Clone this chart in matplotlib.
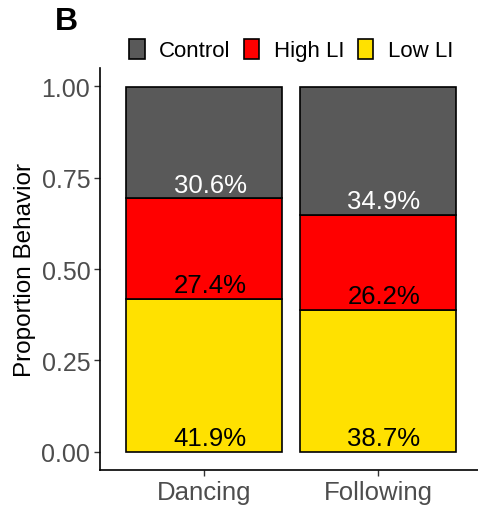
import matplotlib
matplotlib.use("Agg")
import matplotlib.pyplot as plt
from matplotlib.patches import Patch
import numpy as np

categories = ["Dancing", "Following"]
groups = ["Control", "High LI", "Low LI"]
low_li = [41.9, 38.7]
high_li = [27.4, 26.2]
control = [30.6, 34.9]
colors = {"Control": "#595959", "High LI": "#FF0000", "Low LI": "#FFE100"}
text_colors = {"Control": "white", "High LI": "black", "Low LI": "black"}
yticks = [0.00, 0.25, 0.50, 0.75, 1.00]

plt.rcParams['font.family'] = ['Liberation Sans', 'DejaVu Sans']

fig = plt.figure(figsize=(4.78, 5.10), dpi=100)
ax = fig.add_axes([100/478, 1 - 471/510, 1 - 100/478, (471 - 69)/510])

x = np.arange(1, len(categories) + 1)
stack_order = [("Low LI", low_li), ("High LI", high_li), ("Control", control)]
bottom = np.zeros(len(categories))
for name, vals in stack_order:
    v = np.array(vals) / 100.0
    ax.bar(x, v, bottom=bottom, width=0.9, color=colors[name],
           edgecolor="black", linewidth=1.2, zorder=2)
    for xi, b, val in zip(x, bottom, vals):
        ax.text(xi + 0.035, b + 0.038, f"{val}%", ha="center", va="center",
                fontsize=18.5, color=text_colors[name], zorder=3)
    bottom = bottom + v

ax.set_xlim(0.4, 0.4 + (478 - 100) / 173.7)
ax.set_ylim(-0.05, 1.05)
ax.set_xticks(x)
ax.set_xticklabels(categories, fontsize=18.5, color="#4D4D4D")
ax.set_yticks(yticks)
ax.set_yticklabels([f"{t:.2f}" for t in yticks], fontsize=18, color="#4D4D4D")
ax.set_ylabel("Proportion Behavior", fontsize=17.5, labelpad=4)
for s in ["top", "right"]:
    ax.spines[s].set_visible(False)
for s in ["left", "bottom"]:
    ax.spines[s].set_linewidth(1.2)
ax.tick_params(axis="both", length=4, width=1.0, color="#333333", pad=3)

handles = [Patch(facecolor=colors[g], edgecolor="black", linewidth=1.2, label=g) for g in groups]
fig.legend(handles=handles, loc="center", bbox_to_anchor=(291/478, 1 - 51/510),
           ncol=3, frameon=False, fontsize=16, handlelength=0.7, handleheight=1.0,
           handletextpad=0.65, columnspacing=0.6, borderpad=0)

fig.text(55/478, 1 - 22/510, "B", fontsize=23, fontweight="bold", ha="left", va="center")

fig.savefig("out.png", dpi=100)
